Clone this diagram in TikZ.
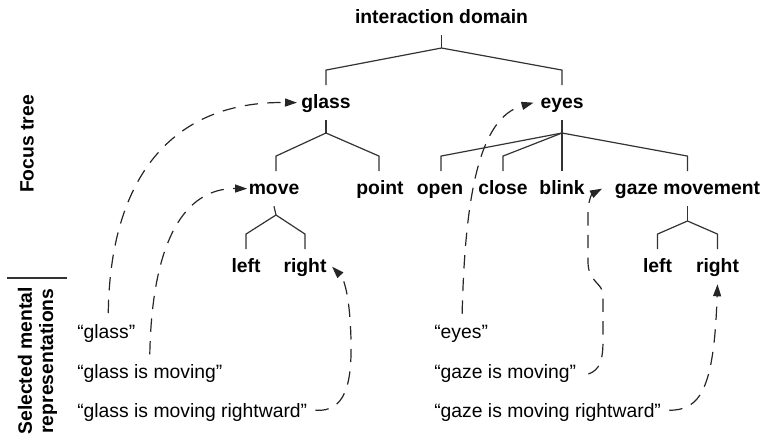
\documentclass[tikz,border=0pt]{standalone}
\usepackage{fontspec}
\setmainfont{Liberation Sans}
\usetikzlibrary{arrows.meta}
\begin{document}
\begin{tikzpicture}[x=0.75pt,y=-0.75pt,
  treenode/.style={font=\bfseries\fontsize{14.5}{16}\selectfont, inner sep=0pt,
    text height=17pt, text depth=9pt, anchor=base},
  quote/.style={font=\fontsize{14.5}{16}\selectfont, inner sep=0pt, anchor=base west},
  sidelabel/.style={font=\bfseries\fontsize{14.5}{15.8}\selectfont, inner sep=0pt,
    rotate=90, align=center},
  branch/.style={draw=black!80, line width=0.9pt},
  link/.style={draw=black!85, line width=0.9pt, dash pattern=on 10pt off 7pt,
    -{Triangle[length=9pt,width=6pt]}},
  ]
\useasboundingbox (0,0) rectangle (763,440);

% focus tree
\node[treenode] (root)  at (441.5,23) {interaction domain};
\node[treenode] (glass) at (326,108) {glass};
\node[treenode] (eyes)  at (562,108) {eyes};
\node[treenode] (move)  at (274,194) {move};
\node[treenode] (point) at (380,194) {point};
\node[treenode] (open)  at (440,194) {open};
\node[treenode] (close) at (503,194) {close};
\node[treenode] (blink) at (562,194) {blink};
\node[treenode] (gaze)  at (687.5,194) {gaze movement};
\node[treenode] (mleft)  at (246,272) {left};
\node[treenode] (mright) at (305,272) {right};
\node[treenode] (gleft)  at (657.5,272) {left};
\node[treenode] (gright) at (717.5,272) {right};

\coordinate (jroot)  at (441.5,48);
\coordinate (jglass) at (326,133);
\coordinate (jeyes)  at (562,133);
\coordinate (jmove)  at (276,215);
\coordinate (jgaze)  at (687.5,221);

\draw[branch] (root.south) -- (jroot);
\draw[branch] (jroot) -- ([yshift=11.25pt]glass.north) -- (glass.north);
\draw[branch] (jroot) -- ([yshift=11.25pt]eyes.north) -- (eyes.north);
\draw[branch] (glass.south) -- (jglass);
\draw[branch] (jglass) -- ([yshift=11.25pt,xshift=1.5pt]move.north) -- ([xshift=1.5pt]move.north);
\draw[branch] (jglass) -- ([yshift=11.25pt,xshift=-0.75pt]point.north) -- ([xshift=-0.75pt]point.north);
\draw[branch] (eyes.south) -- (jeyes);
\draw[branch] (jeyes) -- ([yshift=11.25pt,xshift=0.75pt]open.north) -- ([xshift=0.75pt]open.north);
\draw[branch] (jeyes) -- ([yshift=11.25pt]close.north) -- (close.north);
\draw[branch] (jeyes) -- (blink.north);
\draw[branch] (jeyes) -- ([yshift=11.25pt]gaze.north) -- (gaze.north);
\draw[branch] (move.south) -- ([xshift=1.5pt]move.south |- jmove) -- (jmove);
\draw[branch] (jmove) -- ([yshift=11.25pt]mleft.north) -- (mleft.north);
\draw[branch] (jmove) -- ([yshift=11.25pt]mright.north) -- (mright.north);
\draw[branch] (gaze.south) -- (jgaze);
\draw[branch] (jgaze) -- ([yshift=11.25pt]gleft.north) -- (gleft.north);
\draw[branch] (jgaze) -- ([yshift=11.25pt]gright.north) -- (gright.north);

% selected mental representations
\node[quote] (q1) at (77,338) {“glass”};
\node[quote] (q2) at (77,378) {“glass is moving”};
\node[quote] (q3) at (77,417) {“glass is moving rightward”};
\node[quote] (q4) at (434,338) {“eyes”};
\node[quote] (q5) at (434,378) {“gaze is moving”};
\node[quote] (q6) at (434,417) {“gaze is moving rightward”};

% side labels
\node[sidelabel] (lfocus) at (27,144) {Focus tree};
\node[sidelabel] (lsel) at (37.5,361) {Selected mental\\representations};
\coordinate (sepL) at (7,278);
\coordinate (sepR) at (67,278);
\draw[branch] (sepL) -- (sepR);

% links from representations to tree nodes
\draw[link] ([xshift=1.5pt,yshift=8pt]q1.north) .. controls (110,180) and (170,101) .. ([xshift=-3pt]glass.west);
\draw[link] ([yshift=7pt]q2.north) .. controls (152,240) and (185,188) .. ([xshift=-1pt]move.west);
\draw[link] ([xshift=6pt,yshift=5pt]q3.base east) .. controls (345,412) and (352,385) .. (351,340)
  .. controls (350,300) and (345,280) .. ([xshift=4pt]mright.east);
\draw[link] ([xshift=0.75pt,yshift=8pt]q4.north) .. controls (465,200) and (478,118) .. ([xshift=-5pt]eyes.west);
\draw[link] ([xshift=9pt,yshift=3pt]q5.base east) .. controls (600,370) and (603,360) .. (603,340) -- (603,295)
  .. controls (603,283) and (588,282) .. (588,262) -- (588,215)
  .. controls (588,200) and (592,194) .. ([xshift=-9.5pt]gaze.west);
\draw[link] ([xshift=6pt,yshift=5pt]q6.base east) .. controls (700,410) and (714,390) .. (gright.south);
\end{tikzpicture}
\end{document}
